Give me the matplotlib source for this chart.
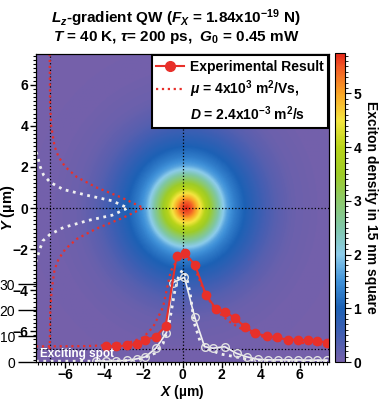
import numpy as np
import matplotlib
matplotlib.use("Agg")
import matplotlib.pyplot as plt
from matplotlib.colors import LinearSegmentedColormap
from matplotlib.lines import Line2D
from matplotlib.ticker import MultipleLocator

plt.rcParams['font.family'] = ['Liberation Sans', 'DejaVu Sans']
plt.rcParams['font.weight'] = 'bold'
plt.rcParams['mathtext.fontset'] = 'custom'
plt.rcParams['mathtext.rm'] = 'Liberation Sans:bold'
plt.rcParams['mathtext.it'] = 'Liberation Sans:italic:bold'
plt.rcParams['mathtext.bf'] = 'Liberation Sans:bold'

# radial profile of the exciton density map
radius_um = [0, 0.3, 0.5, 0.75, 1.0, 1.25, 1.5, 1.8, 2.1, 2.5, 3.0, 3.5, 4.0, 4.6, 5.5, 7.0, 11.0]
density = [5.75, 5.45, 5.0, 4.45, 3.9, 3.4, 2.85, 2.2, 1.65, 1.3, 1.0, 0.75, 0.5, 0.3, 0.12, 0.03, 0.0]
spot_center = (0.2, 0.0)

# X profile, experimental result (counts, second scale on the left)
exp_x = [-3.9, -3.39, -2.85, -2.35, -1.9, -1.38, -0.86, -0.3, 0.15, 0.64, 1.2, 1.72,
         2.16, 2.68, 3.2, 3.72, 4.32, 4.84, 5.38, 5.9, 6.4, 6.9, 7.4]
exp_counts = [6.3, 6.0, 6.4, 7.0, 8.6, 9.6, 14.0, 40.8, 41.8, 37.3, 25.8, 20.5,
              19.4, 16.9, 13.5, 11.0, 10.0, 9.5, 8.5, 8.6, 8.3, 8.1, 7.5]

# X profile, exciting spot (open circles)
spot_x = [-4.45, -3.9, -3.4, -2.85, -2.35, -1.9, -1.36, -0.82, -0.5, 0.1, 0.62, 1.13,
          1.56, 2.16, 2.77, 3.28, 3.88, 4.4, 4.9, 5.4, 5.9, 6.4, 6.9, 7.4]
spot_counts = [0.5, 0.3, 0.4, 0.6, 1.2, 2.0, 5.3, 11.3, 30.5, 32.6, 17.4, 5.9,
               5.3, 5.9, 3.3, 2.0, 1.0, 0.8, 0.8, 0.8, 0.8, 0.7, 0.7, 0.7]

# X profile, simulations
sim_x = [-7.5, -5.0, -4.0, -3.0, -2.6, -2.0, -1.5, -1.0, -0.6, -0.3, 0.0, 0.2, 0.5,
         0.8, 1.0, 1.5, 2.0, 2.5, 3.0, 3.5, 4.0, 5.0, 6.0, 7.5]
sim_counts = [6.0, 6.1, 6.4, 7.2, 7.8, 9.5, 13.5, 21.0, 35.0, 39.0, 40.0, 40.3, 38.0,
              33.0, 29.0, 22.0, 18.0, 15.0, 12.8, 11.3, 10.0, 8.2, 7.4, 6.5]
spot_sim_x = [-7.5, -4.5, -3.0, -2.4, -2.0, -1.4, -1.0, -0.7, -0.4, -0.2, 0.0, 0.2, 0.4,
              0.6, 0.9, 1.4, 2.0, 2.5, 3.5, 5.0, 7.5]
spot_sim_counts = [0.3, 0.3, 0.5, 0.8, 1.5, 3.4, 7.0, 14.0, 27.0, 33.0, 35.4, 33.0, 26.0,
                   15.0, 8.0, 4.6, 3.0, 2.3, 0.8, 0.5, 0.4]

# Y profiles (drawn sideways from X = -6.8)
ysim_y = [7.5, 5.0, 4.0, 3.0, 2.5, 2.0, 1.5, 1.0, 0.5, 0.0, -0.5, -1.0, -1.5, -2.0,
          -2.5, -3.0, -4.0, -5.0, -6.9]
ysim_x = [-6.8, -6.78, -6.72, -6.55, -6.35, -6.0, -5.4, -4.4, -3.1, -2.0, -3.1, -4.4,
          -5.4, -6.0, -6.35, -6.55, -6.7, -6.77, -6.8]
yspot_y = [4.5, 4.0, 3.3, 2.6, 2.0, 1.6, 1.25, 0.9, 0.6, 0.35, 0.0, -0.35, -0.6, -0.95,
           -1.3, -1.6, -2.0, -2.6, -3.3, -4.0, -4.5]
yspot_x = [-7.75, -7.68, -7.62, -7.45, -7.28, -7.11, -6.77, -6.1, -4.8, -3.6, -2.8, -3.6,
           -4.8, -6.1, -6.8, -7.15, -7.3, -7.5, -7.62, -7.68, -7.75]

cmap_values = [0, 0.5, 1.0, 1.5, 2.0, 2.5, 3.0, 3.5, 4.0, 4.5, 5.0, 5.5, 5.75]
cmap_colors = [(0.46, 0.38, 0.67), (0.26, 0.37, 0.70), (0.11, 0.38, 0.71),
               (0.25, 0.57, 0.85), (0.55, 0.80, 0.92), (0.50, 0.78, 0.66),
               (0.55, 0.79, 0.42), (0.62, 0.80, 0.15), (0.72, 0.83, 0.10),
               (0.96, 0.90, 0.25), (0.98, 0.65, 0.15), (0.95, 0.35, 0.15),
               (0.90, 0.15, 0.10)]
vmax = cmap_values[-1]
cmap = LinearSegmentedColormap.from_list(
    'exc', [(v / vmax, c) for v, c in zip(cmap_values, cmap_colors)])

red = '#e8302a'
white = '#f0f0f0'

fig = plt.figure(figsize=(3.81, 4.0), dpi=100)
ax = fig.add_axes([36 / 381, 38 / 400, 293 / 381, 308 / 400])
cax = fig.add_axes([335 / 381, 38 / 400, 10 / 381, 309 / 400])

# density map
g = np.linspace(-7.5, 7.5, 301)
gx, gy = np.meshgrid(g, g)
r = np.hypot(gx - spot_center[0], gy - spot_center[1])
field = np.interp(r, radius_um, density)
im = ax.imshow(field, extent=[-7.5, 7.5, -7.5, 7.5], origin='lower', cmap=cmap,
               vmin=0, vmax=vmax, aspect='auto', interpolation='bilinear')
ax.set_xlim(-7.5, 7.5)
ax.set_ylim(-7.5, 7.5)

# guide lines
for v in (0, -6.8):
    ax.axvline(v, color='black', ls=':', lw=0.9)
ax.axhline(0, color='black', ls=':', lw=0.9)
ax.axhline(-6.88, color='black', ls=':', lw=0.9)

ax.plot(ysim_x, ysim_y, color=red, ls=':', lw=1.6)
ax.plot(yspot_x, yspot_y, color=white, ls=':', lw=2.0)

ax.set_xticks([-6, -4, -2, 0, 2, 4, 6])
ax.set_yticks([-6, -4, -2, 0, 2, 4, 6])
ax.xaxis.set_minor_locator(MultipleLocator(0.2))
ax.yaxis.set_minor_locator(MultipleLocator(0.2))
ax.tick_params(which='major', direction='out', length=4, width=1, labelsize=10, pad=1.5)
ax.tick_params(axis='x', which='major', pad=0.5)
ax.tick_params(which='minor', direction='out', length=2.5, width=0.8)
ax.set_xlabel('$X$ (µm)', fontsize=10, fontweight='bold', va='center')
ax.xaxis.set_label_coords(0.5, -0.097)
ax.set_ylabel('$Y$ (µm)', fontsize=10.5, fontweight='bold', va='center')
ax.yaxis.set_label_coords(-0.095, 0.5)

# counts axis for the X profiles
ax2 = ax.twinx()
ax2.yaxis.set_ticks_position('left')
ax2.set_ylim(0, 118.5)
ax2.set_xlim(-7.5, 7.5)
ax2.set_yticks([0, 10, 20, 30])
ax2.tick_params(axis='y', direction='out', length=13, width=1, labelsize=10, pad=2)
for lab in ax2.get_yticklabels():
    lab.set_fontweight('normal')

ax2.plot(spot_sim_x, spot_sim_counts, color=white, ls=':', lw=2.0)
ax2.plot(spot_x, spot_counts, color=white, lw=1.2, marker='o', ms=5.5,
         mfc='none', mec='#e0e0e0', mew=1.0)
ax2.plot(sim_x, sim_counts, color=red, ls=':', lw=1.6)
ax2.plot(exp_x, exp_counts, color=red, lw=1.5, marker='o', ms=6, mec=red)

ax2.text(-7.3, 3.2, 'Exciting spot', color='white', fontsize=8.5, fontweight='bold',
         ha='left', va='center', zorder=10)

handles = [Line2D([], [], color=red, lw=1.5, marker='o', ms=7),
           Line2D([], [], color=red, ls=':', lw=1.6),
           Line2D([], [], color='none')]
labels = ['Experimental Result', r'$\mu$ = 4x10$^3$ m$^2$/Vs,', r'$D$ = 2.4x10$^{-3}$ m$^2$/s']
leg = ax2.legend(handles, labels, loc='upper right', bbox_to_anchor=(1.0, 1.0),
                 borderaxespad=0.1, fancybox=False, framealpha=1, edgecolor='black',
                 prop={'size': 10, 'weight': 'bold'}, handlelength=2.0, handletextpad=0.4,
                 labelspacing=0.35, borderpad=0.3)
leg.get_frame().set_linewidth(1.5)
leg.set_zorder(20)

# colour bar
cb = fig.colorbar(im, cax=cax)
cb.set_ticks([0, 1, 2, 3, 4, 5])
cb.ax.yaxis.set_minor_locator(MultipleLocator(0.1))
cb.ax.tick_params(which='major', direction='out', length=4, labelsize=10, pad=2)
cb.ax.tick_params(which='minor', direction='out', length=2)
cb.outline.set_linewidth(0.8)
cb.set_label('Exciton density in 15 nm square', rotation=270, fontsize=10,
             fontweight='bold', labelpad=12)

fig.text(176 / 381, 1 - 18 / 400, r'$L_z$-gradient QW ($F_X$ = 1.84x10$^{-19}$ N)',
         ha='center', va='center', fontsize=11, fontweight='bold')
fig.text(176 / 381, 1 - 38 / 400, r'$T$ = 40 K, $\tau$= 200 ps,  $G_0$ = 0.45 mW',
         ha='center', va='center', fontsize=11, fontweight='bold')

fig.savefig('out.png', dpi=100)
